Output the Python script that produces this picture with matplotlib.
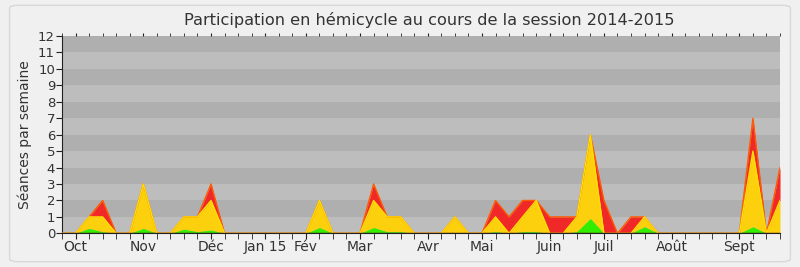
import matplotlib
matplotlib.use("Agg")
import matplotlib.pyplot as plt
from matplotlib.patches import FancyBboxPatch
import numpy as np

title = "Participation en hémicycle au cours de la session 2014-2015"
ylabel = "Séances par semaine"

weeks = list(range(54))
green = [0, 0, 0.3, 0.1, 0, 0, 0.3, 0, 0, 0.25, 0.1, 0.2, 0, 0, 0, 0, 0, 0,
         0, 0.35, 0, 0, 0, 0.35, 0.1, 0.1, 0, 0, 0, 0, 0, 0, 0.1, 0, 0.1, 0.1,
         0, 0, 0.1, 0.9, 0, 0, 0, 0.4, 0, 0, 0, 0, 0, 0, 0, 0.4, 0, 0.05]
yellow = [0, 0, 1, 1, 0, 0, 3, 0, 0, 1, 1, 2, 0, 0, 0, 0, 0, 0,
          0, 2, 0, 0, 0, 2, 1, 1, 0, 0, 0, 1, 0, 0, 1, 0, 1, 2,
          0, 0, 1, 6, 0, 0, 0, 1, 0, 0, 0, 0, 0, 0, 0, 5, 0, 2]
red = [0, 0, 1, 2, 0, 0, 3, 0, 0, 1, 1, 3, 0, 0, 0, 0, 0, 0,
       0, 2, 0, 0, 0, 3, 1, 1, 0, 0, 0, 1, 0, 0, 2, 1, 2, 2,
       1, 1, 1, 6, 2, 0, 1, 1, 0, 0, 0, 0, 0, 0, 0, 7, 0, 4]

month_pos = [1, 6, 11, 15, 18, 22, 27, 31, 36, 40, 45, 50]
month_labels = ["Oct", "Nov", "Déc", "Jan 15", "Fév", "Mar", "Avr", "Mai",
                "Juin", "Juil", "Août", "Sept"]

fig = plt.figure(figsize=(8, 2.67), dpi=100, facecolor="#f0f0f0")
border = FancyBboxPatch((0.012, 0.02), 0.976, 0.96, boxstyle="round,pad=0,rounding_size=0.01",
                        transform=fig.transFigure, facecolor="#f0f0f0",
                        edgecolor="#d8d8d8", lw=1, zorder=-10)
fig.patches.append(border)
ax = fig.add_axes([0.0775, 0.126, 0.8975, 0.739])
ax.set_zorder(5)
ax.set_facecolor("#bcbcbc")

for k in range(12):
    ax.axhspan(k, k + 1, color="#afafaf" if k % 2 == 1 else "#bdbdbd", lw=0, zorder=0)

x = np.array(weeks)
g = np.array(green)
y = np.array(yellow)
r = np.array(red)
ax.fill_between(x, y, r, color="#f02828", lw=0, zorder=2)
ax.plot(x, r, color="#ff5a00", lw=1, zorder=3)
ax.fill_between(x, g, y, color="#fcd00c", lw=0, zorder=2)
ax.plot(x, y, color="#ffe000", lw=1, zorder=3)
ax.fill_between(x, 0, g, color="#33ee00", lw=0, zorder=2)
ax.axhline(0, color="#6a1e10", lw=1, zorder=4)

ax.set_xlim(0, 53)
ax.set_ylim(0, 12)
ax.set_yticks(range(13))
ax.set_xticks(weeks, minor=True)
ax.set_xticks(month_pos)
ax.set_xticklabels(month_labels)
ax.tick_params(axis="x", which="both", direction="out", length=4, color="#222222",
               top=True, labelsize=10, labelcolor="#333333", pad=1)
ax.tick_params(axis="y", direction="out", length=4, color="#222222",
               labelsize=9.5, labelcolor="#333333", pad=1)
for tl in ax.xaxis.get_major_ticks() + ax.xaxis.get_minor_ticks():
    tl.tick2line.set_markersize(2)

for s in ["top", "right"]:
    ax.spines[s].set_visible(False)
ax.spines["left"].set_color("#222222")
ax.spines["bottom"].set_color("#222222")

ax.set_ylabel(ylabel, fontsize=10, color="#333333", labelpad=4)
fig.text(0.536, 0.925, title, ha="center", va="center", fontsize=11.6, color="#333333")

fig.savefig("out.png", dpi=100, facecolor=fig.get_facecolor())
